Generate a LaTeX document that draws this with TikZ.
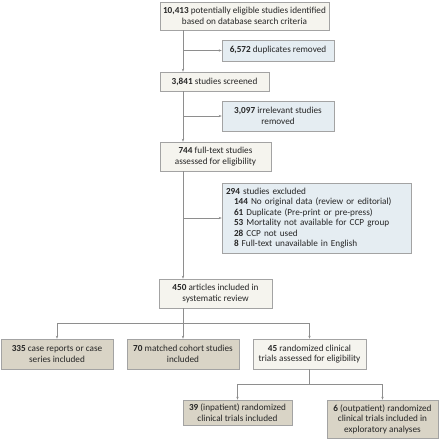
\documentclass[tikz,border=0pt]{standalone}
\usepackage{fontspec}
\setmainfont{Carlito}
\usetikzlibrary{arrows.meta}
\definecolor{cream}{HTML}{F5F4EE}
\definecolor{bluebox}{HTML}{E5EDF2}
\definecolor{tanbox}{HTML}{D9D4C6}
\definecolor{edge}{HTML}{A3A3A3}
\definecolor{conn}{HTML}{8E8E8E}
\tikzset{
  basebox/.style={draw=edge, line width=0.6pt, inner sep=0pt, align=center,
    font=\fontsize{9.2}{10.4}\selectfont, text=black!85},
  creambox/.style={basebox, fill=cream},
  bluesbox/.style={basebox, fill=bluebox},
  tanbbox/.style={basebox, fill=tanbox},
  conline/.style={draw=conn, line width=0.5pt},
  arr/.style={conline, -{Stealth[length=3pt,width=2.4pt]}},
}
\begin{document}
\begin{tikzpicture}[x=1pt,y=-1pt]
\useasboundingbox (0,0) rectangle (440,440);
\node[creambox, minimum width=169pt, minimum height=28pt] (b1) at (244.5,16)
  {\textbf{10,413} potentially eligible studies identified\\based on database search criteria};
\node[bluesbox, minimum width=112pt, minimum height=21pt] (b2) at (278,50.5)
  {\textbf{6,572} duplicates removed};
\node[creambox, minimum width=109pt, minimum height=19pt] (b3) at (214.5,81.5)
  {\textbf{3,841} studies screened};
\node[bluesbox, minimum width=112pt, minimum height=30pt] (b4) at (278,116)
  {\textbf{3,097} irrelevant studies\\removed};
\node[creambox, minimum width=111pt, minimum height=29pt] (b5) at (215.5,156.5)
  {\textbf{744} full-text studies\\assessed for eligibility};
\node[bluesbox, minimum width=189pt, minimum height=70pt, align=left, text width=181pt] (b6) at (316.5,218)
  {\textbf{294} studies excluded\\
   \hspace*{8pt}\textbf{144} No original data (review or editorial)\\
   \hspace*{8pt}\textbf{61} Duplicate (Pre-print or pre-press)\\
   \hspace*{8pt}\textbf{53} Mortality not available for CCP group\\
   \hspace*{8pt}\textbf{28} CCP not used\\
   \hspace*{8pt}\textbf{8} Full-text unavailable in English};
\node[creambox, minimum width=113pt, minimum height=29pt] (b7) at (215.5,293.5)
  {\textbf{450} articles included in\\systematic review};
\node[tanbbox, minimum width=112pt, minimum height=30pt] (b8) at (57,354)
  {\textbf{335} case reports or case\\series included};
\node[tanbbox, minimum width=112pt, minimum height=30pt] (b9) at (183,354)
  {\textbf{70} matched cohort studies\\included};
\node[creambox, minimum width=113pt, minimum height=30pt] (b10) at (309.5,354)
  {\textbf{45} randomized clinical\\trials assessed for eligibility};
\node[tanbbox, minimum width=109pt, minimum height=25pt] (b11) at (237.5,412.5)
  {\textbf{39} (inpatient) randomized\\clinical trials included};
\node[tanbbox, minimum width=111pt, minimum height=38pt] (b12) at (382.5,419)
  {\textbf{6} (outpatient) randomized\\clinical trials included in\\exploratory analyses};
% main spine
\draw[arr] (b1.south -| b9.north) -- (b3.north -| b9.north);
\draw[arr] (b3.south -| b9.north) -- (b5.north -| b9.north);
\draw[arr] (b5.south -| b9.north) -- (b7.north -| b9.north);
% side branches
\draw[arr] (b2.west -| b9.north) -- (b2.west);
\draw[arr] (b4.west -| b9.north) -- (b4.west);
\draw[arr] (b6.west -| b9.north) -- (b6.west);
% split to three
\coordinate (s1) at (183,323);
\draw[conline] (b7.south -| b9.north) -- (s1);
\draw[conline] (s1 -| b8.north) -- (s1 -| b10.north);
\draw[arr] (s1 -| b8.north) -- (b8.north);
\draw[arr] (s1) -- (b9.north);
\draw[arr] (s1 -| b10.north) -- (b10.north);
% split to two
\coordinate (s2) at (309.5,384);
\draw[conline] (b10.south) -- (s2);
\draw[conline] (s2 -| b11.north) -- (s2 -| b12.north);
\draw[arr] (s2 -| b11.north) -- (b11.north);
\draw[arr] (s2 -| b12.north) -- (b12.north);
\end{tikzpicture}
\end{document}
